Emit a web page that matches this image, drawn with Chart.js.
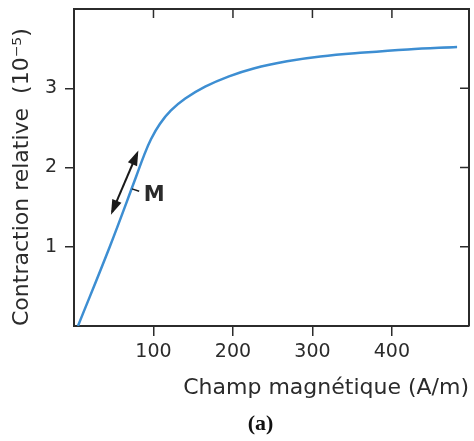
<!DOCTYPE html>
<html>
<head>
<meta charset="utf-8">
<script src="https://cdn.jsdelivr.net/npm/chart.js@4/dist/chart.umd.min.js"></script>
<style>
  html, body { margin: 0; padding: 0; background: #fff; }
  #box { width: 474px; height: 441px; }
</style>
</head>
<body>
<div id="box"><canvas id="myChartLine"></canvas></div>
<script>
// valeurs
var champ = [5, 45, 78, 88, 97, 108, 122, 140, 165, 195, 226, 268, 310, 365, 420, 482];
var contraction = [0, 1.0, 1.88, 2.15, 2.36, 2.55, 2.72, 2.87, 3.02, 3.15, 3.25, 3.34, 3.40, 3.45, 3.49, 3.52];

var xTicks = [100, 200, 300, 400];
var yTicks = [1, 2, 3];

// fleche double autour du point M
var flecheX = [48, 79.5];
var flecheY = [1.44, 2.18];
var repereX = [73, 82];
var repereY = [1.73, 1.70];
var labelM = { x: 101, y: 1.65, text: 'M' };

var ink = '#2b2b2b';

var cadre = {
    id: 'cadre',
    afterDatasetsDraw: function (chart) {
        var c = chart.ctx;
        var xs = chart.scales.x, ys = chart.scales.y;
        var a = chart.chartArea;
        c.save();
        c.strokeStyle = ink;
        c.lineWidth = 2;
        c.beginPath();
        c.moveTo(a.left, a.top);
        c.lineTo(a.right, a.top);
        c.lineTo(a.right, a.bottom);
        c.stroke();
        // petits traits vers l'interieur, en haut et a droite
        c.lineWidth = 1.5;
        xTicks.forEach(function (v) {
            var px = xs.getPixelForValue(v);
            c.beginPath(); c.moveTo(px, a.top); c.lineTo(px, a.top + 9); c.stroke();
        });
        yTicks.forEach(function (v) {
            var py = ys.getPixelForValue(v);
            c.beginPath(); c.moveTo(a.right, py); c.lineTo(a.right - 9, py); c.stroke();
        });

        // fleche
        var x1 = xs.getPixelForValue(flecheX[0]), y1 = ys.getPixelForValue(flecheY[0]);
        var x2 = xs.getPixelForValue(flecheX[1]), y2 = ys.getPixelForValue(flecheY[1]);
        var ang = Math.atan2(y2 - y1, x2 - x1);
        c.strokeStyle = '#1a1a1a';
        c.fillStyle = '#1a1a1a';
        c.lineWidth = 2;
        c.beginPath(); c.moveTo(x1, y1); c.lineTo(x2, y2); c.stroke();
        [[x2, y2, ang], [x1, y1, ang + Math.PI]].forEach(function (h) {
            c.save();
            c.translate(h[0], h[1]);
            c.rotate(h[2]);
            c.beginPath();
            c.moveTo(3, 0);
            c.lineTo(-12, -5);
            c.lineTo(-12, 5);
            c.closePath();
            c.fill();
            c.restore();
        });
        c.lineWidth = 1.5;
        c.beginPath();
        c.moveTo(xs.getPixelForValue(repereX[0]), ys.getPixelForValue(repereY[0]));
        c.lineTo(xs.getPixelForValue(repereX[1]), ys.getPixelForValue(repereY[1]));
        c.stroke();
        c.font = 'bold 21px "DejaVu Sans"';
        c.textAlign = 'center';
        c.textBaseline = 'middle';
        c.fillStyle = ink;
        c.fillText(labelM.text, xs.getPixelForValue(labelM.x), ys.getPixelForValue(labelM.y));

        // legende (a)
        c.font = 'bold 22px "Liberation Serif"';
        c.fillStyle = '#111';
        c.fillText('(a)', (a.left + a.right) / 2 - 11, 424);
        c.restore();
    }
};

var ctx = document.getElementById('myChartLine').getContext('2d');

var chartData = {
    datasets: [{
        label: 'Contraction relative',
        data: champ.map((v, i) => ({ x: v, y: contraction[i] })),
        borderColor: '#3d8ed2',
        borderWidth: 2.5,
        pointRadius: 0,
        fill: false,
        tension: 0.4
    }]
};

var options = {
    responsive: true,
    maintainAspectRatio: false,
    animation: false,
    layout: { padding: { top: 9, right: 5, bottom: 40, left: 0 } },
    plugins: { legend: { display: false }, tooltip: { enabled: false } },
    scales: {
        x: {
            type: 'linear',
            min: 0,
            max: 497,
            afterBuildTicks: function (s) { s.ticks = xTicks.map(v => ({ value: v })); },
            afterFit: function (s) { s.height = 75; s.paddingLeft = 0; s.paddingRight = 0; },
            border: { display: true, color: ink, width: 2 },
            grid: { drawOnChartArea: false, drawTicks: true, tickLength: 10, color: ink, lineWidth: 1.5 },
            ticks: { color: ink, padding: 5, maxRotation: 0, font: { family: 'DejaVu Sans', size: 19 } },
            title: {
                display: true,
                text: 'Champ magnétique (A/m)',
                align: 'end',
                color: ink,
                padding: { top: 0, bottom: 0 },
                font: { family: 'DejaVu Sans', size: 22 }
            }
        },
        y: {
            min: 0,
            max: 4,
            afterBuildTicks: function (s) { s.ticks = yTicks.map(v => ({ value: v })); },
            afterFit: function (s) { s.width = 74; s.paddingTop = 0; s.paddingBottom = 0; },
            border: { display: true, color: ink, width: 2 },
            grid: { drawOnChartArea: false, drawTicks: true, tickLength: 9, color: ink, lineWidth: 1.5 },
            ticks: { color: ink, padding: 8, font: { family: 'DejaVu Sans', size: 19 } },
            title: {
                display: true,
                text: 'Contraction relative  (10⁻⁵)',
                align: 'start',
                color: ink,
                padding: { top: 9, bottom: 0 },
                font: { family: 'DejaVu Sans', size: 22 }
            }
        }
    }
};

var myChart = new Chart(ctx, {
    type: 'line',
    data: chartData,
    options: options,
    plugins: [cadre]
});
</script>
</body>
</html>
